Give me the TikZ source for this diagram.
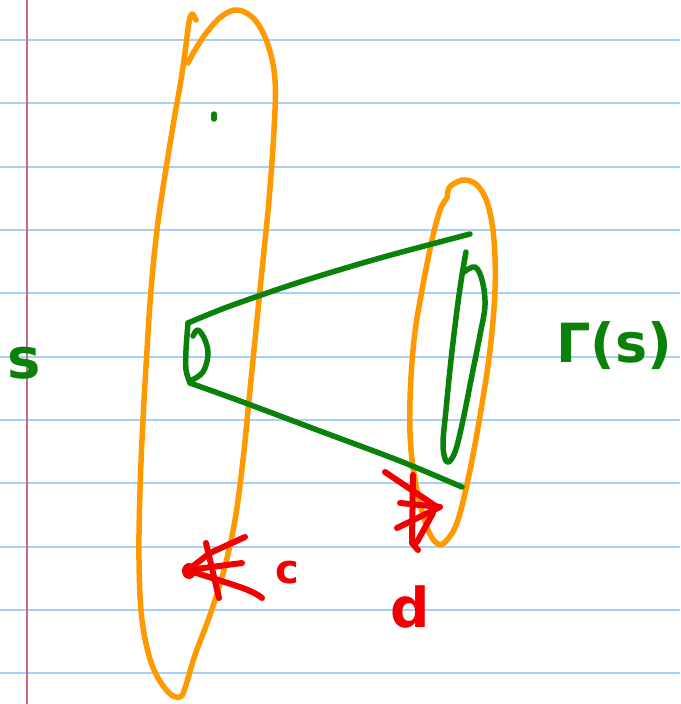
\documentclass[tikz,border=0pt]{standalone}
\usepackage{fontspec}
\newfontfamily\hand{DejaVu Sans}
\definecolor{paperblue}{RGB}{165,208,250}
\definecolor{margin}{RGB}{196,106,140}
\definecolor{ink}{RGB}{10,130,10}
\definecolor{orng}{RGB}{255,153,0}
\definecolor{rd}{RGB}{240,0,0}
\tikzset{
  rule/.style={paperblue,line width=1.8pt},
  marg/.style={margin,line width=1.4pt},
  og/.style={orng,line width=5.5pt,line cap=round,line join=round},
  gr/.style={ink,line width=5.5pt,line cap=round,line join=round},
  rdd/.style={rd,line width=6pt,line cap=round,line join=round},
  lbl/.style={inner sep=0pt,anchor=base,font=\hand\bfseries}
}
\begin{document}
\begin{tikzpicture}[x=1pt,y=-1pt]
\useasboundingbox[fill=white] (0,0) rectangle (680,704);
% paper rules
\foreach \yy in {40,103.3,166.6,230,293.3,356.6,420,483.3,546.6,610,673.3}
  \draw[rule] (0,\yy) -- (680,\yy);
\draw[marg] (27,0) -- (27,704);
% big orange loop
\draw[og] plot[smooth,tension=0.6] coordinates {(196,20) (192,14) (189,22) (186,45) (181,80) (174,120) (165,175) (157,230) (151,290) (147,350) (143,420) (140,490) (139,560) (142,620) (152,665) (168,692) (180,697) (185,688) (195,655) (210,615) (224,570) (235,520) (243,460) (249,400) (255,340) (262,270) (269,200) (274,130) (275,80) (268,45) (255,20) (238,10) (222,16) (207,32) (195,50) (188,63)};
% right orange loop
\draw[og] plot[smooth,tension=0.6] coordinates {(447,198) (449,188) (457,182) (466,180) (478,186) (488,205) (494,240) (495,290) (490,350) (481,410) (470,470) (458,520) (447,540) (438,544) (428,530) (418,495) (411,450) (410,400) (414,340) (422,290) (432,240) (440,210) (447,198)};
% green dot
\draw[gr] (214,114) -- (214,119);
% green tube
\draw[gr] plot[smooth,tension=0.5] coordinates {(470,234) (380,258) (300,282) (230,306) (188,323)};
\draw[gr] plot[smooth,tension=0.5] coordinates {(188,323) (186,350) (186,370) (190,383)};
\draw[gr] plot[smooth,tension=0.5] coordinates {(190,383) (240,401) (320,431) (400,461) (462,487)};
\draw[gr] plot[smooth,tension=0.6] coordinates {(193,336) (198,330) (205,340) (208,355) (203,372) (192,380)};
% right green loop
\draw[gr] plot[smooth,tension=0.6] coordinates {(466,252) (462,275) (457,310) (451,360) (446,410) (443,445) (447,462) (455,452) (463,420) (472,375) (480,335) (485,305) (482,280) (475,267) (464,272)};
% red mark near c
\fill[rd] (189,571) ellipse (7pt and 8pt);
\draw[rdd] (188,570) -- (210,553) -- (245,537);
\draw[rdd] (188,570) -- (242,563);
\draw[rdd] (188,570) .. controls (225,583) and (250,588) .. (262,598);
\draw[rdd] (206,543) -- (219,598);
% red mark near d
\draw[rdd] (385,472) -- (437,507);
\draw[rdd] (400,503) -- (440,507) -- (397,528);
\draw[rdd] (413,475) -- (412,543) -- (418,550);
\draw[rdd] (433,513) -- (417,542);
% labels
\node[lbl,ink] (s) at (24,378) {\fontsize{56}{56}\selectfont s};
\node[lbl,ink] (gam) at (614,362) {\fontsize{54}{54}\selectfont Γ(s)};
\node[lbl,rd] (c) at (287,583) {\fontsize{40}{40}\selectfont c};
\node[lbl,rd] (d) at (410,627) {\fontsize{55}{55}\selectfont d};
\end{tikzpicture}
\end{document}
